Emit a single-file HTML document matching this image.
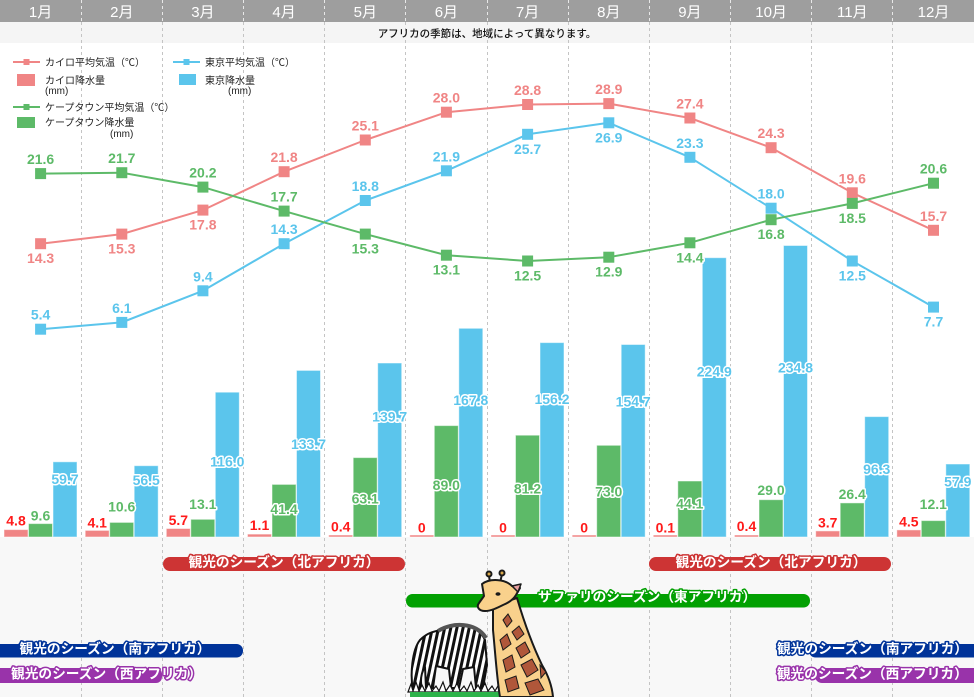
<!DOCTYPE html>
<html><head><meta charset="utf-8"><style>
html,body{margin:0;padding:0;background:#fff;}
svg{display:block;font-family:"Liberation Sans","Noto Sans CJK JP",sans-serif;}
.n{font-size:14px;font-weight:bold;text-anchor:middle;stroke:#fff;stroke-width:3;paint-order:stroke;stroke-linejoin:round;}
.lg{font-size:10px;fill:#222;}
.bt{font-size:13.7px;font-weight:bold;fill:#fff;text-anchor:middle;stroke-width:3;paint-order:stroke;stroke-linejoin:round;}
</style></head><body>
<svg width="974" height="697" viewBox="0 0 974 697" xmlns="http://www.w3.org/2000/svg">
<defs>
<pattern id="zs" width="6" height="6" patternUnits="userSpaceOnUse" patternTransform="rotate(12)">
<rect width="6" height="6" fill="#fff"/><rect width="3" height="6" fill="#111"/>
</pattern>
</defs>
<rect width="974" height="697" fill="#fff"/>
<rect x="0" y="0" width="974" height="22" fill="#9e9e9e"/>
<rect x="0" y="22" width="974" height="21" fill="#f5f5f5"/>
<rect x="0" y="537" width="974" height="160" fill="#f8f8f8"/>

<g stroke="#e8e8e8" stroke-width="1" stroke-dasharray="3,3">
<line x1="81.5" y1="0" x2="81.5" y2="22"/><line x1="162.5" y1="0" x2="162.5" y2="22"/><line x1="243.5" y1="0" x2="243.5" y2="22"/><line x1="324.5" y1="0" x2="324.5" y2="22"/><line x1="405.5" y1="0" x2="405.5" y2="22"/><line x1="487.5" y1="0" x2="487.5" y2="22"/><line x1="568.5" y1="0" x2="568.5" y2="22"/><line x1="649.5" y1="0" x2="649.5" y2="22"/><line x1="730.5" y1="0" x2="730.5" y2="22"/><line x1="811.5" y1="0" x2="811.5" y2="22"/><line x1="892.5" y1="0" x2="892.5" y2="22"/>
</g>
<g stroke="#c4c4c4" stroke-width="1" stroke-dasharray="3,3">
<line x1="81.5" y1="22" x2="81.5" y2="697"/><line x1="162.5" y1="22" x2="162.5" y2="697"/><line x1="243.5" y1="22" x2="243.5" y2="697"/><line x1="324.5" y1="22" x2="324.5" y2="697"/><line x1="405.5" y1="22" x2="405.5" y2="697"/><line x1="487.5" y1="22" x2="487.5" y2="697"/><line x1="568.5" y1="22" x2="568.5" y2="697"/><line x1="649.5" y1="22" x2="649.5" y2="697"/><line x1="730.5" y1="22" x2="730.5" y2="697"/><line x1="811.5" y1="22" x2="811.5" y2="697"/><line x1="892.5" y1="22" x2="892.5" y2="697"/>
</g>

<g font-size="15" fill="#fff" text-anchor="middle">
<text x="40.6" y="17">1月</text><text x="121.8" y="17">2月</text><text x="202.9" y="17">3月</text><text x="284.1" y="17">4月</text><text x="365.3" y="17">5月</text><text x="446.4" y="17">6月</text><text x="527.6" y="17">7月</text><text x="608.8" y="17">8月</text><text x="689.9" y="17">9月</text><text x="771.1" y="17">10月</text><text x="852.3" y="17">11月</text><text x="933.5" y="17">12月</text>
</g>
<text x="487" y="37" font-size="10.5" font-weight="500" fill="#111" text-anchor="middle">アフリカの季節は、地域によって異なります。</text>

<!-- legend -->
<g>
<line x1="13" y1="62" x2="40" y2="62" stroke="#f08585" stroke-width="2"/><rect x="23.5" y="59" width="6" height="6" fill="#f08585"/>
<text class="lg" x="45" y="66">カイロ平均気温（℃）</text>
<rect x="17" y="74" width="18" height="12" fill="#f08585"/>
<text class="lg" x="45" y="84">カイロ降水量</text>
<text class="lg" x="45" y="94">(mm)</text>
<line x1="13" y1="107" x2="40" y2="107" stroke="#5dba68" stroke-width="2"/><rect x="23.5" y="104" width="6" height="6" fill="#5dba68"/>
<text class="lg" x="45" y="111">ケープタウン平均気温（℃）</text>
<rect x="17" y="117" width="18" height="11" fill="#5dba68"/>
<text class="lg" x="45" y="126">ケープタウン降水量</text>
<text class="lg" x="110" y="137">(mm)</text>
<line x1="173" y1="62" x2="200" y2="62" stroke="#5bc5ec" stroke-width="2"/><rect x="183.5" y="59" width="6" height="6" fill="#5bc5ec"/>
<text class="lg" x="205" y="66">東京平均気温（℃）</text>
<rect x="179" y="74" width="17" height="11" fill="#5bc5ec"/>
<text class="lg" x="205" y="84">東京降水量</text>
<text class="lg" x="228" y="94">(mm)</text>
</g>

<!-- bars -->
<g stroke="rgba(255,255,255,0.5)" stroke-width="1">
<g fill="#f08585">
<rect x="4" y="529.6" width="24" height="7.4"/><rect x="85.2" y="530.4" width="24" height="6.6"/><rect x="166.3" y="528.5" width="24" height="8.5"/><rect x="247.5" y="534.1" width="24" height="2.9"/><rect x="328.7" y="535" width="24" height="2"/><rect x="409.8" y="535" width="24" height="2"/><rect x="491" y="535" width="24" height="2"/><rect x="572.2" y="535" width="24" height="2"/><rect x="653.3" y="535" width="24" height="2"/><rect x="734.5" y="535" width="24" height="2"/><rect x="815.7" y="530.9" width="24" height="6.1"/><rect x="896.8" y="529.9" width="24" height="7.1"/>
</g>
<g fill="#5dba68">
<rect x="28.5" y="523.6" width="24" height="13.4"/><rect x="109.7" y="522.4" width="24" height="14.6"/><rect x="190.8" y="519.3" width="24" height="17.7"/><rect x="272" y="484.4" width="24" height="52.6"/><rect x="353.2" y="457.6" width="24" height="79.4"/><rect x="434.3" y="425.6" width="24" height="111.4"/><rect x="515.5" y="435.2" width="24" height="101.8"/><rect x="596.7" y="445.3" width="24" height="91.7"/><rect x="677.8" y="481" width="24" height="56"/><rect x="759" y="499.7" width="24" height="37.3"/><rect x="840.2" y="502.9" width="24" height="34.1"/><rect x="921.3" y="520.6" width="24" height="16.4"/>
</g>
<g fill="#5bc5ec">
<rect x="53" y="461.8" width="24" height="75.2"/><rect x="134.2" y="465.7" width="24" height="71.3"/><rect x="215.3" y="392.2" width="24" height="144.8"/><rect x="296.5" y="370.4" width="24" height="166.6"/><rect x="377.7" y="363" width="24" height="174"/><rect x="458.8" y="328.3" width="24" height="208.7"/><rect x="540" y="342.6" width="24" height="194.4"/><rect x="621.2" y="344.5" width="24" height="192.5"/><rect x="702.3" y="257.7" width="24" height="279.3"/><rect x="783.5" y="245.5" width="24" height="291.5"/><rect x="864.7" y="416.6" width="24" height="120.4"/><rect x="945.8" y="464" width="24" height="73"/>
</g>
</g>

<!-- lines -->
<g fill="none" stroke-width="2" stroke-linejoin="round">
<polyline stroke="#5bc5ec" points="40.6,329.2 121.8,322.4 202.9,290.8 284.1,243.7 365.3,200.5 446.4,170.8 527.6,134.3 608.8,122.8 689.9,157.3 771.1,208.2 852.3,261 933.5,307.1"/>
<polyline stroke="#f08585" points="40.6,243.7 121.8,234.1 202.9,210.1 284.1,171.7 365.3,140 446.4,112.2 527.6,104.5 608.8,103.6 689.9,118 771.1,147.7 852.3,192.8 933.5,230.3"/>
<polyline stroke="#5dba68" points="40.6,173.6 121.8,172.7 202.9,187.1 284.1,211.1 365.3,234.1 446.4,255.2 527.6,261 608.8,257.2 689.9,242.8 771.1,219.7 852.3,203.4 933.5,183.2"/>
</g>
<g fill="#5bc5ec">
<rect x="35.1" y="323.7" width="11" height="11"/><rect x="116.3" y="316.9" width="11" height="11"/><rect x="197.4" y="285.3" width="11" height="11"/><rect x="278.6" y="238.2" width="11" height="11"/><rect x="359.8" y="195" width="11" height="11"/><rect x="440.9" y="165.3" width="11" height="11"/><rect x="522.1" y="128.8" width="11" height="11"/><rect x="603.3" y="117.3" width="11" height="11"/><rect x="684.4" y="151.8" width="11" height="11"/><rect x="765.6" y="202.7" width="11" height="11"/><rect x="846.8" y="255.5" width="11" height="11"/><rect x="928" y="301.6" width="11" height="11"/>
</g>
<g fill="#f08585">
<rect x="35.1" y="238.2" width="11" height="11"/><rect x="116.3" y="228.6" width="11" height="11"/><rect x="197.4" y="204.6" width="11" height="11"/><rect x="278.6" y="166.2" width="11" height="11"/><rect x="359.8" y="134.5" width="11" height="11"/><rect x="440.9" y="106.7" width="11" height="11"/><rect x="522.1" y="99" width="11" height="11"/><rect x="603.3" y="98.1" width="11" height="11"/><rect x="684.4" y="112.5" width="11" height="11"/><rect x="765.6" y="142.2" width="11" height="11"/><rect x="846.8" y="187.3" width="11" height="11"/><rect x="928" y="224.8" width="11" height="11"/>
</g>
<g fill="#5dba68">
<rect x="35.1" y="168.1" width="11" height="11"/><rect x="116.3" y="167.2" width="11" height="11"/><rect x="197.4" y="181.6" width="11" height="11"/><rect x="278.6" y="205.6" width="11" height="11"/><rect x="359.8" y="228.6" width="11" height="11"/><rect x="440.9" y="249.7" width="11" height="11"/><rect x="522.1" y="255.5" width="11" height="11"/><rect x="603.3" y="251.7" width="11" height="11"/><rect x="684.4" y="237.3" width="11" height="11"/><rect x="765.6" y="214.2" width="11" height="11"/><rect x="846.8" y="197.9" width="11" height="11"/><rect x="928" y="177.7" width="11" height="11"/>
</g>

<!-- temperature labels -->
<g class="n" fill="#f08585">
<text class="n" fill="#f08585" x="40.6" y="263.2">14.3</text><text class="n" fill="#f08585" x="121.8" y="253.6">15.3</text><text class="n" fill="#f08585" x="202.9" y="229.6">17.8</text><text class="n" fill="#f08585" x="284.1" y="162.2">21.8</text><text class="n" fill="#f08585" x="365.3" y="130.5">25.1</text><text class="n" fill="#f08585" x="446.4" y="102.7">28.0</text><text class="n" fill="#f08585" x="527.6" y="95">28.8</text><text class="n" fill="#f08585" x="608.8" y="94.1">28.9</text><text class="n" fill="#f08585" x="689.9" y="108.5">27.4</text><text class="n" fill="#f08585" x="771.1" y="138.2">24.3</text><text class="n" fill="#f08585" x="852.3" y="183.3">19.6</text><text class="n" fill="#f08585" x="933.5" y="220.8">15.7</text>
</g>
<g>
<text class="n" fill="#5bc5ec" x="40.6" y="319.7">5.4</text><text class="n" fill="#5bc5ec" x="121.8" y="312.9">6.1</text><text class="n" fill="#5bc5ec" x="202.9" y="281.3">9.4</text><text class="n" fill="#5bc5ec" x="284.1" y="234.2">14.3</text><text class="n" fill="#5bc5ec" x="365.3" y="191">18.8</text><text class="n" fill="#5bc5ec" x="446.4" y="161.3">21.9</text><text class="n" fill="#5bc5ec" x="527.6" y="153.8">25.7</text><text class="n" fill="#5bc5ec" x="608.8" y="142.3">26.9</text><text class="n" fill="#5bc5ec" x="689.9" y="147.8">23.3</text><text class="n" fill="#5bc5ec" x="771.1" y="198.7">18.0</text><text class="n" fill="#5bc5ec" x="852.3" y="280.5">12.5</text><text class="n" fill="#5bc5ec" x="933.5" y="326.6">7.7</text>
</g>
<g>
<text class="n" fill="#5dba68" x="40.6" y="164.1">21.6</text><text class="n" fill="#5dba68" x="121.8" y="163.2">21.7</text><text class="n" fill="#5dba68" x="202.9" y="177.6">20.2</text><text class="n" fill="#5dba68" x="284.1" y="201.6">17.7</text><text class="n" fill="#5dba68" x="365.3" y="253.6">15.3</text><text class="n" fill="#5dba68" x="446.4" y="274.7">13.1</text><text class="n" fill="#5dba68" x="527.6" y="280.5">12.5</text><text class="n" fill="#5dba68" x="608.8" y="276.7">12.9</text><text class="n" fill="#5dba68" x="689.9" y="262.3">14.4</text><text class="n" fill="#5dba68" x="771.1" y="239.2">16.8</text><text class="n" fill="#5dba68" x="852.3" y="222.9">18.5</text><text class="n" fill="#5dba68" x="933.5" y="173.7">20.6</text>
</g>

<!-- bar labels -->
<g>
<text class="n" fill="#ff1a1a" x="16" y="525.7">4.8</text><text class="n" fill="#ff1a1a" x="97.2" y="527.7">4.1</text><text class="n" fill="#ff1a1a" x="178.3" y="525">5.7</text><text class="n" fill="#ff1a1a" x="259.5" y="530">1.1</text><text class="n" fill="#ff1a1a" x="340.7" y="531.7">0.4</text><text class="n" fill="#ff1a1a" x="421.8" y="532.7">0</text><text class="n" fill="#ff1a1a" x="503" y="532.7">0</text><text class="n" fill="#ff1a1a" x="584.2" y="532.7">0</text><text class="n" fill="#ff1a1a" x="665.3" y="532.3">0.1</text><text class="n" fill="#ff1a1a" x="746.5" y="531">0.4</text><text class="n" fill="#ff1a1a" x="827.7" y="527.7">3.7</text><text class="n" fill="#ff1a1a" x="908.8" y="526.7">4.5</text>
</g>
<g>
<text class="n" fill="#5dba68" x="40.5" y="520.7">9.6</text><text class="n" fill="#5dba68" x="121.7" y="511.7">10.6</text><text class="n" fill="#5dba68" x="202.8" y="509">13.1</text><text class="n" fill="#5dba68" x="284" y="514">41.4</text><text class="n" fill="#5dba68" x="365.2" y="503.3">63.1</text><text class="n" fill="#5dba68" x="446.3" y="490">89.0</text><text class="n" fill="#5dba68" x="527.5" y="493.3">81.2</text><text class="n" fill="#5dba68" x="608.7" y="496.7">73.0</text><text class="n" fill="#5dba68" x="689.8" y="508.3">44.1</text><text class="n" fill="#5dba68" x="771" y="495">29.0</text><text class="n" fill="#5dba68" x="852.2" y="499">26.4</text><text class="n" fill="#5dba68" x="933.3" y="509">12.1</text>
</g>
<g>
<text class="n" fill="#5bc5ec" x="65" y="484">59.7</text><text class="n" fill="#5bc5ec" x="146.2" y="485">56.5</text><text class="n" fill="#5bc5ec" x="227.3" y="466.7">116.0</text><text class="n" fill="#5bc5ec" x="308.5" y="449">133.7</text><text class="n" fill="#5bc5ec" x="389.7" y="421.7">139.7</text><text class="n" fill="#5bc5ec" x="470.8" y="405">167.8</text><text class="n" fill="#5bc5ec" x="552" y="404">156.2</text><text class="n" fill="#5bc5ec" x="633.2" y="406.7">154.7</text><text class="n" fill="#5bc5ec" x="714.3" y="376.7">224.9</text><text class="n" fill="#5bc5ec" x="795.5" y="372.3">234.8</text><text class="n" fill="#5bc5ec" x="876.7" y="474">96.3</text><text class="n" fill="#5bc5ec" x="957.8" y="486.7">57.9</text>
</g>

<!-- season bands -->
<rect x="163" y="557" width="242" height="14" rx="7" fill="#cd3434"/>
<text class="bt" x="284" y="567" stroke="#cd3434">観光のシーズン（北アフリカ）</text>
<rect x="649" y="557" width="242" height="14" rx="7" fill="#cd3434"/>
<text class="bt" x="771" y="567" stroke="#cd3434">観光のシーズン（北アフリカ）</text>

<rect x="406" y="594" width="404" height="13.5" rx="6.5" fill="#02a002"/>

<rect x="-10" y="644" width="253" height="13.5" rx="6.5" fill="#003399"/>
<text class="bt" x="115" y="653.5" stroke="#003399">観光のシーズン（南アフリカ）</text>
<rect x="809" y="644" width="180" height="13.5" rx="6.5" fill="#003399"/>
<text class="bt" x="872.5" y="653.5" stroke="#003399">観光のシーズン（南アフリカ）</text>

<rect x="-10" y="668" width="172" height="15" rx="6" fill="#9933aa"/>
<text class="bt" x="106.5" y="678.5" stroke="#9933aa">観光のシーズン（西アフリカ）</text>
<rect x="815" y="668" width="175" height="15" rx="7" fill="#9933aa"/>
<text class="bt" x="872.3" y="678.5" stroke="#9933aa">観光のシーズン（西アフリカ）</text>

<!-- zebra -->
<g stroke="#111" stroke-width="2" stroke-linejoin="round">
<path d="M440,630 C455,622 478,624 485,640 L487,665 L483,688 L476,688 L474,667 L463,669 L459,688 L451,688 L449,669 L436,666 L433,688 L426,688 L425,667 C421,673 420,681 422,690 L413,690 C410,675 412,650 420,640 C428,632 434,632 440,630 Z" fill="url(#zs)"/>
<path d="M438,631 C452,622 476,622 486,638" fill="none" stroke="#555" stroke-width="4"/>
</g>
<!-- grass -->
<path d="M408,692 L411,684 L413,691 L416,682 L419,691 L422,685 L425,691 L429,683 L432,691 L436,686 L439,691 L443,682 L446,691 L450,685 L453,691 L457,683 L460,691 L464,686 L467,691 L471,682 L474,691 L478,685 L481,691 L485,683 L488,691 L492,686 L495,691 L499,684 L502,692 Z" fill="#fff" stroke="#111" stroke-width="1.2"/>
<rect x="410" y="692" width="95" height="5" fill="#2db34a"/>

<!-- giraffe -->
<g stroke="#1a1a1a" stroke-width="2" stroke-linejoin="round">
<line x1="490" y1="584" x2="489" y2="575"/><line x1="500" y1="583" x2="502" y2="574"/>
<circle cx="489" cy="574" r="2.5" fill="#d9a84a"/><circle cx="502" cy="573" r="2.5" fill="#d9a84a"/>
<path d="M493,606 L517,598 C522,615 530,640 542,665 C548,675 552,686 553,697 L500,697 C497,680 495,650 493,630 Z" fill="#f9d18c"/>
<path d="M482,584 C490,578 505,579 512,586 L520,588 L516,595 C513,600 508,603 503,605 C497,608 491,611 485,611 C479,611 476,607 479,603 L484,596 Z" fill="#f9d18c"/>
<path d="M512,586 L521,584 L518,592 Z" fill="#e8a0a0" stroke-width="1.5"/>
</g>
<ellipse cx="498" cy="594" rx="2.5" ry="1.8" fill="#1a1a1a"/>
<g fill="#b0573a" stroke="#1a1a1a" stroke-width="1">
<path d="M503,620 L508,614 L512,621 L507,627 Z"/>
<path d="M512,632 L519,626 L524,634 L517,640 Z"/>
<path d="M500,640 L507,634 L511,644 L503,650 Z"/>
<path d="M516,648 L525,642 L530,652 L521,658 Z"/>
<path d="M503,660 L512,655 L515,667 L506,672 Z"/>
<path d="M521,665 L532,659 L538,670 L527,677 Z"/>
<path d="M505,680 L516,676 L519,688 L508,692 Z"/>
<path d="M525,683 L538,679 L544,690 L530,695 Z"/>
<path d="M540,665 L546,672 L541,678 Z"/>
</g>

<text class="bt" x="647" y="601.7" stroke="#02a002">サファリのシーズン（東アフリカ）</text>
</svg>
</body></html>
